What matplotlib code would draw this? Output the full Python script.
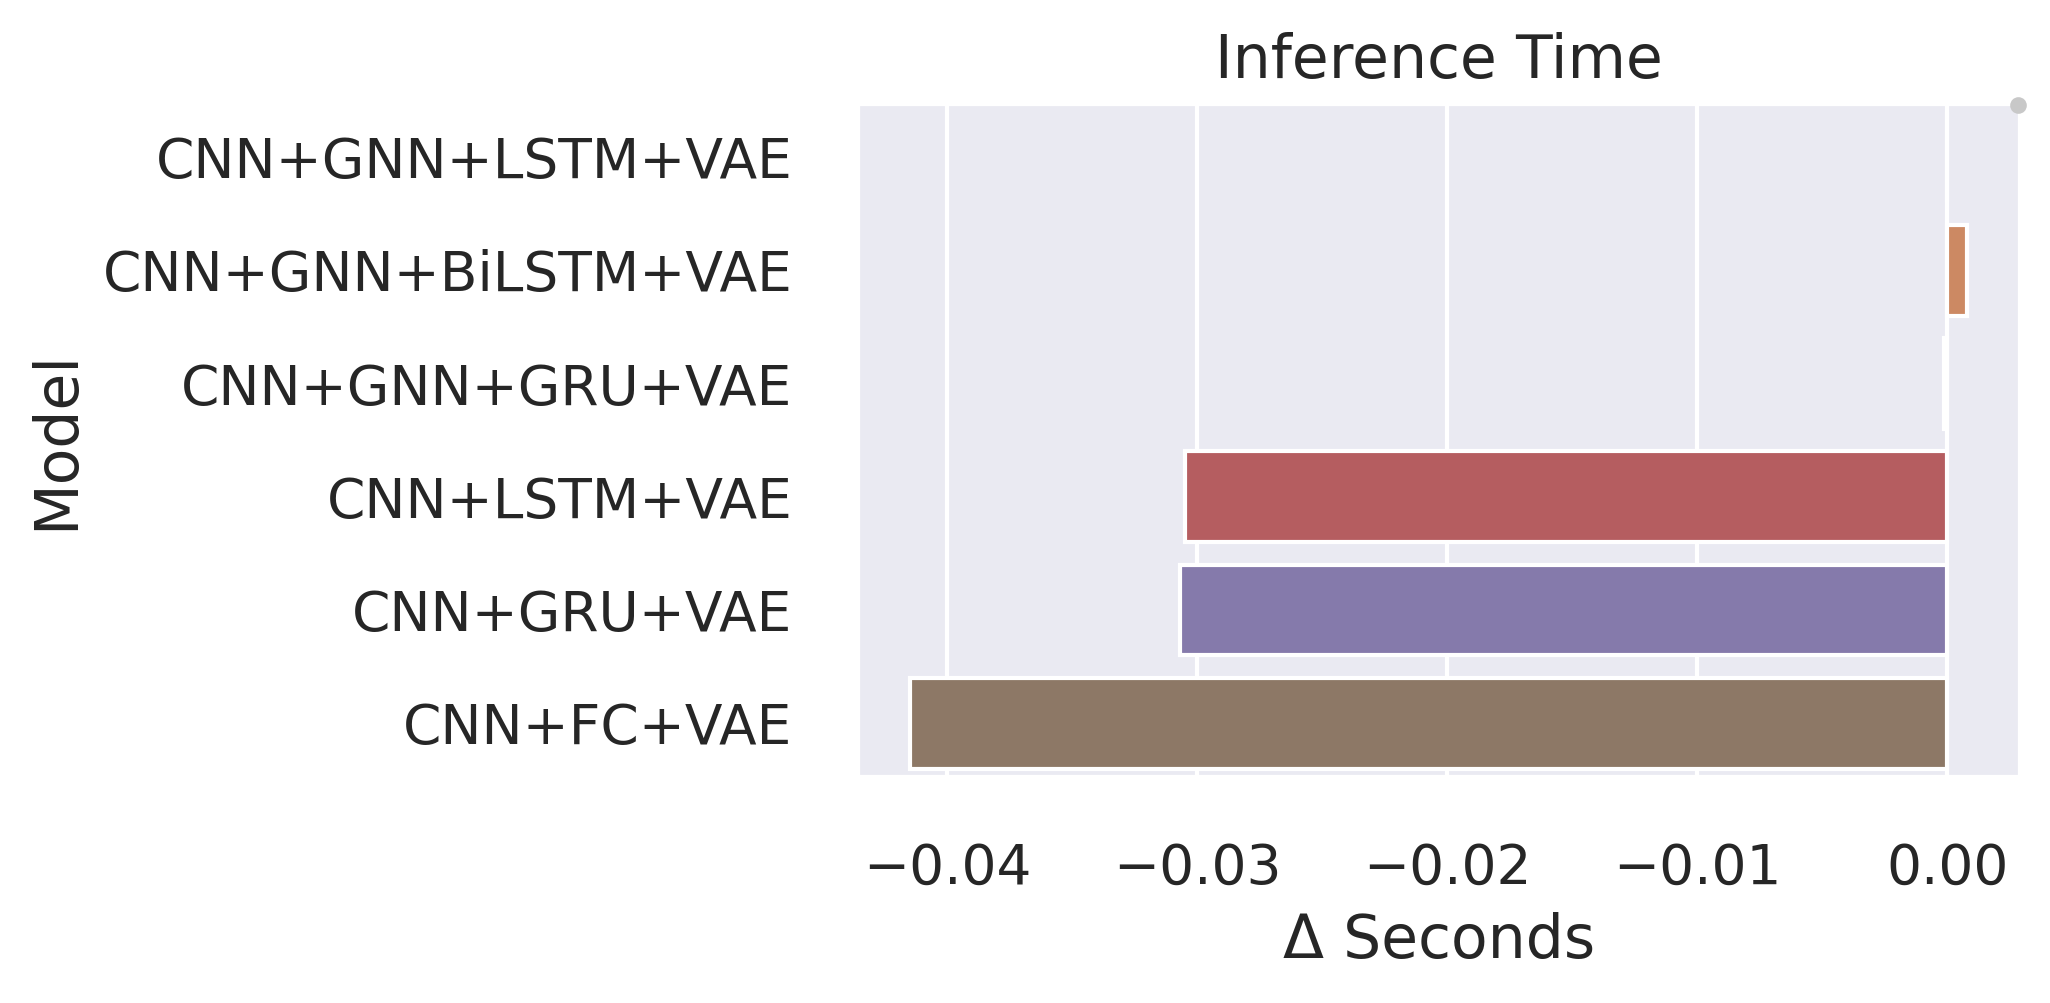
import numpy as np
import matplotlib
matplotlib.use("Agg")
import matplotlib.pyplot as plt
import seaborn as sns

# delta inference time vs. baseline, seconds
MODELS = [
    "CNN+GNN+LSTM+VAE",
    "CNN+GNN+BiLSTM+VAE",
    "CNN+GNN+GRU+VAE",
    "CNN+LSTM+VAE",
    "CNN+GRU+VAE",
    "CNN+FC+VAE",
]
DELTA_SEC = [0.0, 0.0008, -0.00015, -0.0305, -0.0307, -0.0415]

sns.set_theme(style="darkgrid", context="notebook", font_scale=1.2)
plt.rcParams["font.family"] = ["DejaVu Sans"]
plt.rcParams["xtick.major.pad"] = 9.5
plt.rcParams["ytick.major.pad"] = 9.5

fig, ax = plt.subplots(figsize=(2050 / 300, 1003 / 300), dpi=300)
fig.subplots_adjust(left=0.418, right=0.9855, top=0.897, bottom=0.2253)

sns.barplot(x=DELTA_SEC, y=MODELS, hue=MODELS, palette="deep",
            legend=False, ax=ax)
ax.set_ylim(len(MODELS) - 0.525, -0.475)

ax.set_title("Inference Time")
ax.set_xlabel("Δ Seconds")
ax.set_ylabel("Model")

# small grey dot sitting on the top-right corner of the axes
ax.plot([0.998], [0.998], "o", color="#c8c8c8", markersize=4,
        markeredgewidth=0, transform=ax.transAxes, clip_on=False,
        zorder=10)

fig.savefig("out.png", dpi=300)
plt.close(fig)
